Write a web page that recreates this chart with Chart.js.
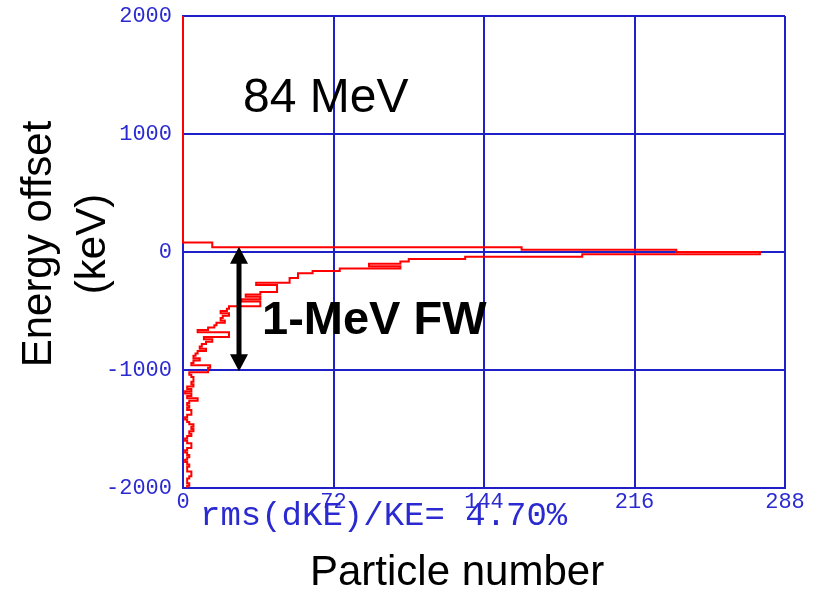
<!DOCTYPE html>
<html>
<head>
<meta charset="utf-8">
<script src="https://cdn.jsdelivr.net/npm/chart.js@4.4.1/dist/chart.umd.min.js"></script>
<style>
  html, body { margin: 0; padding: 0; background: #fff; }
  #wrap { width: 818px; height: 596px; position: relative; }
</style>
</head>
<body>
<div id="wrap"><canvas id="chart"></canvas></div>
<script>
  'use strict';

  // Energy histogram: 20 keV bins, top edge of the first bin at +80 keV
  const binTopKeV = 80;
  const binWidthKeV = 20;
  const energyMaxKeV = 2000;
  const counts = [
    14, 14, 162, 236, 276, 191, 135, 108, 104, 89,
    104, 75, 62, 55, 55, 51, 51, 35, 45, 45,
    45, 37, 30, 37, 28, 37, 37, 22, 21, 18,
    22, 19, 18, 20, 16, 15, 12, 7, 22, 22,
    10, 14, 11, 9, 8, 11, 7, 6, 5, 8,
    5, 4, 13, 12, 12, 3, 4, 5, 5, 4,
    5, 2, 4, 1, 4, 2, 7, 3, 2, 3,
    2, 4, 4, 2, 1, 2, 3, 5, 4, 5,
    3, 4, 2, 1, 2, 4, 4, 2, 1, 2,
    3, 2, 1, 2, 3, 2, 2, 4, 4, 3,
    2, 2, 3, 2
  ];

  const particleTicks = [0, 72, 144, 216, 288];
  const energyTicks = [-2000, -1000, 0, 1000, 2000];

  // full-width marker (keV) and where the arrow sits (particle number)
  const fwRangeKeV = [-1010, 45];
  const fwArrowCount = 27;

  const gridBlue = '#2020c8';
  const labelBlue = '#2a2ad0';
  const sans = '"Liberation Sans", Arial, sans-serif';
  const mono = '"Liberation Mono", "DejaVu Sans Mono", monospace';

  // step outline of the histogram
  const outline = [{ x: 0, y: energyMaxKeV }, { x: 0, y: binTopKeV }];
  counts.forEach(function (c, i) {
    const top = binTopKeV - i * binWidthKeV;
    outline.push({ x: c, y: top }, { x: c, y: top - binWidthKeV });
  });

  const annotations = {
    id: 'annotations',
    afterDatasetsDraw(chart) {
      const { ctx, scales: { x, y } } = chart;
      ctx.save();

      ctx.fillStyle = '#000';
      ctx.textBaseline = 'alphabetic';
      ctx.textAlign = 'left';
      ctx.font = '48px ' + sans;
      ctx.fillText('84 MeV', 243, 112);

      // double arrow for the 1 MeV full width
      const ax = Math.round(x.getPixelForValue(fwArrowCount));
      const yTop = y.getPixelForValue(fwRangeKeV[1]);
      const yBot = y.getPixelForValue(fwRangeKeV[0]);
      const headH = 17, headW = 9;
      ctx.strokeStyle = '#000';
      ctx.lineWidth = 5;
      ctx.beginPath();
      ctx.moveTo(ax, yTop + headH - 2);
      ctx.lineTo(ax, yBot - headH + 2);
      ctx.stroke();
      ctx.beginPath();
      ctx.moveTo(ax, yTop);
      ctx.lineTo(ax - headW, yTop + headH);
      ctx.lineTo(ax + headW, yTop + headH);
      ctx.closePath();
      ctx.moveTo(ax, yBot);
      ctx.lineTo(ax - headW, yBot - headH);
      ctx.lineTo(ax + headW, yBot - headH);
      ctx.closePath();
      ctx.fill();

      ctx.font = 'bold 47px ' + sans;
      ctx.fillText('1-MeV FW', 262, 334);

      // axis titles
      ctx.font = '42px ' + sans;
      ctx.fillText('Particle number', 310, 585);

      ctx.save();
      ctx.translate(0, 244);
      ctx.rotate(-Math.PI / 2);
      ctx.textAlign = 'center';
      ctx.fillText('Energy offset', 0, 51);
      ctx.fillText('(keV)', 0, 105);
      ctx.restore();

      ctx.fillStyle = labelBlue;
      ctx.font = '34px ' + mono;
      ctx.fillText('rms(dKE)/KE= 4.70%', 200, 525);

      ctx.restore();
    }
  };

  const ctx = document.getElementById('chart').getContext('2d');
  new Chart(ctx, {
    type: 'line',
    data: {
      datasets: [{
        data: outline,
        borderColor: '#ff0000',
        borderWidth: 2,
        pointRadius: 0,
        tension: 0,
        fill: false,
        clip: 6
      }]
    },
    options: {
      responsive: true,
      maintainAspectRatio: false,
      animation: false,
      events: [],
      layout: { padding: { top: 16, right: 33, left: 0, bottom: 0 } },
      plugins: {
        legend: { display: false },
        tooltip: { enabled: false }
      },
      scales: {
        x: {
          type: 'linear',
          min: 0,
          max: 288,
          afterBuildTicks: function (scale) {
            scale.ticks = particleTicks.map(v => ({ value: v }));
          },
          afterFit: function (scale) {
            scale.height = 108;
            scale.paddingLeft = 0;
            scale.paddingRight = 0;
          },
          grid: { color: gridBlue, lineWidth: 2, drawTicks: false },
          border: { color: gridBlue, width: 2 },
          ticks: {
            color: labelBlue,
            padding: 1,
            maxRotation: 0,
            autoSkip: false,
            font: { family: mono, size: 22 },
            callback: v => String(v)
          }
        },
        y: {
          type: 'linear',
          min: -2000,
          max: 2000,
          afterBuildTicks: function (scale) {
            scale.ticks = energyTicks.map(v => ({ value: v }));
          },
          afterFit: function (scale) {
            scale.width = 183;
            scale.paddingTop = 0;
            scale.paddingBottom = 0;
          },
          grid: { color: gridBlue, lineWidth: 2, drawTicks: false },
          border: { color: gridBlue, width: 2 },
          ticks: {
            color: labelBlue,
            padding: 11,
            autoSkip: false,
            font: { family: mono, size: 22 },
            callback: v => String(v)
          }
        }
      }
    },
    plugins: [annotations]
  });
</script>
</body>
</html>
